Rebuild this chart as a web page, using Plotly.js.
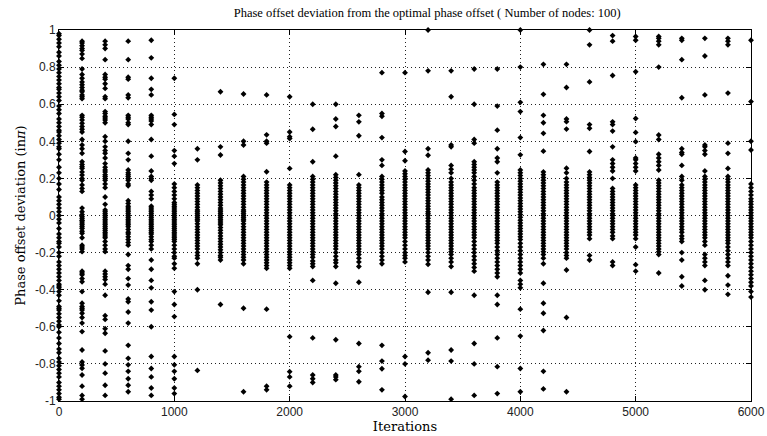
<!DOCTYPE html>
<html>
<head>
<meta charset="utf-8">
<script src="https://cdn.plot.ly/plotly-3.0.1.min.js"></script>
<style>html,body{margin:0;padding:0;background:#fff;}#chart{width:767px;height:436px;}</style>
</head>
<body>
<div id="chart"></div>
<script>
const iterations = [0,200,400,600,800,1000,1200,1400,1600,1800,2000,2200,2400,2600,2800,3000,3200,3400,3600,3800,4000,4200,4400,4600,4800,5000,5200,5400,5600,5800,6000];
const yTickValues = [-1,-0.8,-0.6,-0.4,-0.2,0,0.2,0.4,0.6,0.8,1];
const yTickLabels = ['-1','-0.8','-0.6','-0.4','-0.2','0','0.2','0.4','0.6','0.8','1'];
const xTickValues = [0,1000,2000,3000,4000,5000,6000];
const xTickLabels = ['0','1000','2000','3000','4000','5000','6000'];

const dev_0000 = [0.98,0.97,0.95,0.93,0.91,0.88,0.86,0.83,0.81,0.79,0.77,0.75,0.73,0.71,0.69,0.68,0.66,0.64,0.62,0.59,0.57,0.55,0.52,0.5,0.48,0.46,0.45,0.43,0.41,0.39,0.37,0.36,0.33,0.3,0.26,0.23,0.2,0.17,0.14,0.1,0.08,0.06,0.04,0.02,0.0,-0.02,-0.04,-0.07,-0.1,-0.12,-0.14,-0.15,-0.17,-0.2,-0.22,-0.25,-0.27,-0.29,-0.31,-0.33,-0.35,-0.37,-0.38,-0.39,-0.41,-0.43,-0.46,-0.49,-0.5,-0.51,-0.53,-0.55,-0.57,-0.59,-0.6,-0.63,-0.66,-0.69,-0.72,-0.74,-0.77,-0.79,-0.81,-0.83,-0.85,-0.87,-0.9,-0.92,-0.94,-0.96,-0.98,-0.99];
const dev_0200 = [0.94,0.93,0.915,0.9,0.89,0.87,0.847,0.79,0.76,0.74,0.72,0.705,0.69,0.675,0.667,0.65,0.64,0.63,0.54,0.53,0.515,0.497,0.48,0.465,0.45,0.41,0.38,0.36,0.335,0.29,0.275,0.263,0.254,0.235,0.218,0.2,0.19,0.165,0.146,0.13,0.04,0.02,0.005,-0.006,-0.015,-0.025,-0.03,-0.04,-0.05,-0.06,-0.07,-0.085,-0.096,-0.12,-0.16,-0.17,-0.18,-0.195,-0.3,-0.31,-0.32,-0.34,-0.357,-0.41,-0.473,-0.49,-0.5,-0.51,-0.527,-0.55,-0.58,-0.626,-0.725,-0.79,-0.806,-0.824,-0.86,-0.92,-0.97,-0.99];
const dev_0400 = [0.94,0.92,0.9,0.84,0.76,0.745,0.735,0.71,0.685,0.64,0.63,0.56,0.55,0.535,0.525,0.515,0.5,0.425,0.4,0.37,0.35,0.335,0.31,0.28,0.26,0.245,0.235,0.22,0.21,0.2,0.19,0.17,0.15,0.1,0.06,0.03,0.02,0.01,0.0,-0.01,-0.02,-0.03,-0.04,-0.05,-0.06,-0.07,-0.08,-0.09,-0.1,-0.11,-0.12,-0.14,-0.16,-0.18,-0.195,-0.3,-0.315,-0.33,-0.345,-0.37,-0.43,-0.54,-0.56,-0.61,-0.635,-0.73,-0.8,-0.85,-0.915,-0.97];
const dev_0600 = [0.94,0.84,0.745,0.735,0.65,0.635,0.54,0.53,0.52,0.5,0.49,0.4,0.335,0.3,0.245,0.23,0.22,0.21,0.2,0.19,0.17,0.16,0.08,0.065,0.05,0.04,0.03,0.02,0.01,0.0,-0.01,-0.02,-0.03,-0.04,-0.05,-0.06,-0.075,-0.09,-0.1,-0.115,-0.13,-0.145,-0.16,-0.21,-0.27,-0.29,-0.34,-0.375,-0.45,-0.465,-0.52,-0.58,-0.7,-0.77,-0.805,-0.84,-0.88,-0.915,-0.95];
const dev_0800 = [0.945,0.85,0.74,0.68,0.65,0.54,0.53,0.52,0.51,0.49,0.41,0.32,0.24,0.21,0.2,0.19,0.13,0.11,0.09,0.05,0.04,0.03,0.02,0.01,0.0,-0.01,-0.02,-0.03,-0.04,-0.05,-0.06,-0.07,-0.08,-0.09,-0.1,-0.115,-0.13,-0.14,-0.16,-0.18,-0.24,-0.29,-0.35,-0.39,-0.465,-0.51,-0.6,-0.76,-0.825,-0.87,-0.93,-0.97];
const dev_1000 = [0.74,0.545,0.49,0.35,0.32,0.28,0.17,0.15,0.13,0.11,0.09,0.07,0.06,0.05,0.04,0.03,0.02,0.01,0.0,-0.01,-0.02,-0.03,-0.04,-0.05,-0.06,-0.07,-0.08,-0.09,-0.1,-0.11,-0.12,-0.13,-0.14,-0.16,-0.18,-0.2,-0.22,-0.23,-0.26,-0.285,-0.41,-0.48,-0.545,-0.76,-0.805,-0.84,-0.88,-0.93,-0.96];
const dev_1200 = [0.36,0.3,0.165,0.15,0.135,0.12,0.105,0.09,0.075,0.06,0.045,0.03,0.02,0.01,0.0,-0.01,-0.02,-0.03,-0.045,-0.06,-0.075,-0.09,-0.105,-0.12,-0.135,-0.15,-0.165,-0.18,-0.2,-0.215,-0.23,-0.26,-0.4,-0.835];
const dev_1400 = [0.667,0.37,0.326,0.19,0.175,0.16,0.145,0.13,0.115,0.1,0.085,0.07,0.055,0.04,0.03,0.02,0.01,0.0,-0.01,-0.02,-0.03,-0.04,-0.05,-0.065,-0.08,-0.095,-0.11,-0.125,-0.14,-0.155,-0.17,-0.185,-0.2,-0.215,-0.225,-0.24,-0.48];
const dev_1600 = [0.655,0.4,0.38,0.21,0.195,0.18,0.165,0.15,0.135,0.12,0.105,0.09,0.075,0.06,0.045,0.03,0.02,0.01,0.0,-0.01,-0.02,-0.03,-0.045,-0.06,-0.075,-0.09,-0.105,-0.12,-0.135,-0.15,-0.165,-0.18,-0.195,-0.21,-0.225,-0.24,-0.26,-0.5,-0.95];
const dev_1800 = [0.65,0.435,0.4,0.39,0.236,0.18,0.165,0.15,0.135,0.12,0.105,0.09,0.075,0.06,0.045,0.03,0.015,0.0,-0.015,-0.03,-0.045,-0.06,-0.075,-0.09,-0.105,-0.12,-0.135,-0.15,-0.165,-0.18,-0.195,-0.21,-0.225,-0.24,-0.255,-0.27,-0.285,-0.505,-0.92,-0.94];
const dev_2000 = [0.64,0.45,0.425,0.415,0.254,0.165,0.15,0.135,0.12,0.105,0.09,0.075,0.06,0.045,0.03,0.015,0.0,-0.015,-0.03,-0.045,-0.06,-0.075,-0.09,-0.105,-0.12,-0.135,-0.15,-0.165,-0.18,-0.195,-0.21,-0.225,-0.24,-0.255,-0.27,-0.285,-0.653,-0.842,-0.87,-0.92];
const dev_2200 = [0.6,0.465,0.29,0.21,0.195,0.18,0.165,0.15,0.135,0.12,0.105,0.09,0.075,0.06,0.045,0.03,0.015,0.0,-0.015,-0.03,-0.045,-0.06,-0.075,-0.09,-0.105,-0.12,-0.135,-0.15,-0.165,-0.18,-0.195,-0.21,-0.225,-0.245,-0.26,-0.275,-0.35,-0.66,-0.86,-0.88,-0.9];
const dev_2400 = [0.6,0.52,0.48,0.32,0.22,0.205,0.19,0.175,0.16,0.145,0.13,0.115,0.1,0.085,0.07,0.055,0.04,0.025,0.01,0.0,-0.015,-0.03,-0.045,-0.06,-0.075,-0.09,-0.105,-0.12,-0.135,-0.15,-0.165,-0.18,-0.2,-0.22,-0.24,-0.255,-0.275,-0.365,-0.67,-0.86,-0.87,-0.885];
const dev_2600 = [0.54,0.505,0.43,0.22,0.165,0.15,0.135,0.12,0.105,0.09,0.075,0.06,0.045,0.03,0.015,0.0,-0.015,-0.03,-0.045,-0.06,-0.075,-0.09,-0.105,-0.12,-0.135,-0.15,-0.165,-0.18,-0.195,-0.21,-0.23,-0.25,-0.275,-0.36,-0.69,-0.815,-0.84,-0.896];
const dev_2800 = [0.77,0.55,0.535,0.42,0.3,0.27,0.21,0.195,0.18,0.165,0.15,0.135,0.12,0.1,0.085,0.07,0.055,0.04,0.025,0.01,0.0,-0.015,-0.03,-0.045,-0.06,-0.075,-0.09,-0.105,-0.12,-0.135,-0.15,-0.165,-0.18,-0.2,-0.22,-0.24,-0.26,-0.7,-0.785,-0.826,-0.94];
const dev_3000 = [0.77,0.345,0.295,0.24,0.225,0.21,0.195,0.18,0.165,0.15,0.135,0.12,0.105,0.09,0.075,0.06,0.045,0.03,0.015,0.0,-0.015,-0.03,-0.045,-0.06,-0.075,-0.09,-0.105,-0.12,-0.14,-0.16,-0.18,-0.2,-0.215,-0.23,-0.25,-0.76,-0.8,-0.976];
const dev_3200 = [1.0,0.78,0.36,0.325,0.245,0.23,0.215,0.2,0.185,0.17,0.155,0.14,0.125,0.11,0.095,0.08,0.065,0.05,0.035,0.02,0.01,0.0,-0.015,-0.03,-0.045,-0.06,-0.075,-0.09,-0.105,-0.12,-0.135,-0.15,-0.165,-0.18,-0.2,-0.22,-0.24,-0.263,-0.414,-0.74,-0.78];
const dev_3400 = [0.78,0.64,0.38,0.37,0.27,0.25,0.23,0.2,0.18,0.165,0.15,0.135,0.12,0.105,0.09,0.075,0.06,0.045,0.03,0.015,0.0,-0.015,-0.03,-0.045,-0.06,-0.075,-0.09,-0.105,-0.12,-0.135,-0.15,-0.165,-0.18,-0.195,-0.21,-0.23,-0.25,-0.275,-0.414,-0.725,-0.785,-0.99];
const dev_3600 = [0.79,0.6,0.41,0.39,0.29,0.275,0.26,0.245,0.23,0.21,0.19,0.17,0.15,0.135,0.12,0.105,0.09,0.075,0.06,0.045,0.03,0.015,0.0,-0.015,-0.03,-0.045,-0.06,-0.075,-0.09,-0.105,-0.12,-0.14,-0.16,-0.18,-0.2,-0.22,-0.24,-0.26,-0.28,-0.3,-0.43,-0.69,-0.8,-0.97];
const dev_3800 = [0.79,0.59,0.46,0.36,0.31,0.29,0.23,0.18,0.165,0.15,0.135,0.12,0.105,0.09,0.075,0.06,0.045,0.03,0.015,0.0,-0.015,-0.03,-0.045,-0.06,-0.075,-0.09,-0.105,-0.12,-0.135,-0.15,-0.17,-0.19,-0.21,-0.23,-0.25,-0.27,-0.29,-0.31,-0.33,-0.43,-0.48,-0.66,-0.815,-0.96];
const dev_4000 = [1.0,0.8,0.61,0.56,0.42,0.327,0.245,0.23,0.215,0.2,0.185,0.17,0.155,0.14,0.125,0.11,0.095,0.08,0.065,0.05,0.035,0.02,0.005,-0.01,-0.025,-0.04,-0.055,-0.07,-0.085,-0.1,-0.115,-0.13,-0.15,-0.17,-0.19,-0.21,-0.23,-0.25,-0.27,-0.29,-0.31,-0.35,-0.37,-0.39,-0.505,-0.65,-0.825,-0.95];
const dev_4200 = [0.815,0.653,0.54,0.5,0.443,0.347,0.235,0.22,0.205,0.19,0.175,0.16,0.145,0.13,0.115,0.1,0.085,0.07,0.055,0.04,0.025,0.01,0.0,-0.015,-0.03,-0.045,-0.06,-0.075,-0.09,-0.105,-0.12,-0.135,-0.15,-0.165,-0.18,-0.195,-0.21,-0.23,-0.26,-0.365,-0.473,-0.527,-0.62,-0.84,-0.935];
const dev_4400 = [0.815,0.69,0.52,0.506,0.466,0.255,0.23,0.2,0.18,0.165,0.15,0.135,0.12,0.105,0.09,0.075,0.06,0.045,0.03,0.015,0.0,-0.015,-0.03,-0.045,-0.06,-0.075,-0.09,-0.105,-0.12,-0.135,-0.15,-0.165,-0.18,-0.2,-0.215,-0.23,-0.294,-0.55,-0.95];
const dev_4600 = [1.0,0.92,0.72,0.49,0.47,0.345,0.235,0.22,0.205,0.19,0.175,0.16,0.145,0.13,0.115,0.1,0.085,0.07,0.055,0.04,0.025,0.01,0.0,-0.015,-0.03,-0.045,-0.06,-0.075,-0.09,-0.105,-0.125,-0.215,-0.24];
const dev_4800 = [0.97,0.94,0.755,0.505,0.49,0.455,0.37,0.3,0.28,0.26,0.24,0.2,0.146,0.13,0.115,0.1,0.085,0.07,0.055,0.04,0.025,0.01,0.0,-0.015,-0.03,-0.045,-0.06,-0.075,-0.09,-0.11,-0.125,-0.25,-0.27];
const dev_5000 = [0.965,0.945,0.775,0.523,0.448,0.398,0.31,0.3,0.28,0.26,0.24,0.165,0.15,0.135,0.12,0.105,0.09,0.075,0.06,0.045,0.03,0.015,0.0,-0.015,-0.03,-0.045,-0.06,-0.075,-0.09,-0.105,-0.125,-0.17,-0.265,-0.3];
const dev_5200 = [0.965,0.955,0.94,0.92,0.8,0.434,0.41,0.33,0.31,0.29,0.27,0.245,0.19,0.175,0.16,0.145,0.13,0.115,0.1,0.085,0.07,0.055,0.04,0.025,0.01,0.0,-0.015,-0.03,-0.045,-0.06,-0.075,-0.09,-0.105,-0.12,-0.135,-0.15,-0.165,-0.18,-0.195,-0.21,-0.31];
const dev_5400 = [0.955,0.945,0.84,0.635,0.36,0.34,0.33,0.27,0.21,0.19,0.165,0.15,0.135,0.12,0.105,0.09,0.075,0.06,0.045,0.03,0.015,0.0,-0.015,-0.03,-0.045,-0.06,-0.075,-0.09,-0.11,-0.125,-0.14,-0.2,-0.24,-0.33,-0.38];
const dev_5600 = [0.955,0.86,0.65,0.38,0.37,0.35,0.33,0.24,0.21,0.195,0.18,0.165,0.15,0.135,0.12,0.105,0.09,0.075,0.06,0.045,0.03,0.015,0.0,-0.015,-0.03,-0.045,-0.06,-0.075,-0.09,-0.105,-0.12,-0.14,-0.16,-0.21,-0.23,-0.25,-0.27,-0.35,-0.4];
const dev_5800 = [0.955,0.94,0.92,0.66,0.39,0.335,0.254,0.21,0.195,0.18,0.165,0.15,0.135,0.12,0.105,0.09,0.075,0.06,0.045,0.03,0.015,0.0,-0.015,-0.03,-0.045,-0.06,-0.075,-0.09,-0.105,-0.12,-0.135,-0.15,-0.17,-0.19,-0.21,-0.23,-0.25,-0.27,-0.325,-0.375,-0.425];
const dev_6000 = [0.945,0.614,0.4,0.353,0.17,0.15,0.13,0.11,0.09,0.075,0.06,0.045,0.03,0.015,0.0,-0.015,-0.03,-0.045,-0.06,-0.075,-0.09,-0.105,-0.12,-0.14,-0.16,-0.18,-0.2,-0.22,-0.24,-0.26,-0.28,-0.3,-0.32,-0.34,-0.36,-0.38,-0.41,-0.44];

const deviations = [dev_0000,dev_0200,dev_0400,dev_0600,dev_0800,dev_1000,dev_1200,dev_1400,dev_1600,dev_1800,dev_2000,dev_2200,dev_2400,dev_2600,dev_2800,dev_3000,dev_3200,dev_3400,dev_3600,dev_3800,dev_4000,dev_4200,dev_4400,dev_4600,dev_4800,dev_5000,dev_5200,dev_5400,dev_5600,dev_5800,dev_6000];

const xs = [], ys = [];
iterations.forEach((it, i) => {
  deviations[i].forEach(v => { xs.push(it); ys.push(v); });
});

const trace = {
  x: xs, y: ys,
  type: 'scatter', mode: 'markers',
  marker: {symbol: 'diamond', size: 4.5, color: '#000'},
  cliponaxis: false,
  hoverinfo: 'none'
};

const serif = 'Liberation Serif, Times New Roman, serif';
const wideSerif = 'DejaVu Serif, serif';
const sans = 'Liberation Sans, Arial, sans-serif';

const layout = {
  width: 767, height: 436,
  margin: {l: 59, r: 16, t: 30, b: 35},
  paper_bgcolor: '#fff', plot_bgcolor: '#fff',
  showlegend: false,
  title: {
    text: 'Phase offset deviation from the optimal phase offset ( Number of nodes: 100)',
    font: {family: serif, size: 12.5, color: '#000'},
    x: 0.557, xanchor: 'center', y: 0.97, yanchor: 'middle'
  },
  xaxis: {
    range: [0, 6000], tickvals: xTickValues, ticktext: xTickLabels,
    showgrid: true, gridcolor: '#222', griddash: '1px,3px', gridwidth: 1,
    zeroline: false,
    showline: true, linecolor: '#000', linewidth: 1, mirror: 'ticks',
    ticks: 'inside', ticklen: 5, tickcolor: '#000',
    tickfont: {family: sans, size: 12, color: '#222'},
    title: {text: 'Iterations', font: {family: wideSerif, size: 13, color: '#000'}, standoff: 3}
  },
  yaxis: {
    range: [-1, 1], tickvals: yTickValues, ticktext: yTickLabels,
    showgrid: true, gridcolor: '#222', griddash: '1px,3px', gridwidth: 1,
    zeroline: false,
    showline: true, linecolor: '#000', linewidth: 1, mirror: 'ticks',
    ticks: 'inside', ticklen: 5, tickcolor: '#000',
    tickfont: {family: sans, size: 12, color: '#222'},
    title: {text: 'Phase offset deviation (in<i>π</i>)', font: {family: wideSerif, size: 13, color: '#000'}, standoff: 6}
  }
};

Plotly.newPlot('chart', [trace], layout, {staticPlot: true, displayModeBar: false});
</script>
</body>
</html>
